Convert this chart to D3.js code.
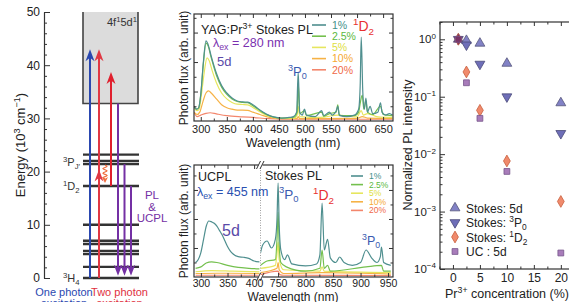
<!DOCTYPE html>
<html>
<head>
<meta charset="utf-8">
<script src="https://cdn.jsdelivr.net/npm/d3@7"></script>
<style>
	body { margin: 0; background: #fff; }
	svg text { font-family: "Liberation Sans", Arial, sans-serif; }
</style>
</head>
<body>
<svg id="chart" width="569" height="302"></svg>
<script>
var undef;
var FONT = '"Liberation Sans", Arial, sans-serif';

// (a) energy levels of Pr3+ (10^3 cm-1)
var levelEnergy = [0, 2.1, 4.5, 5.1, 6.4, 7.0, 10.0, 17.3, 21.4, 22.0, 23.2];
var bandBottom = 32.8;
var energyTicks = [0, 10, 20, 30, 40, 50];
var energyMinor = [2, 4, 6, 8, 12, 14, 16, 18, 22, 24, 26, 28, 32, 34, 36, 38, 42, 44, 46, 48];
var pumpArrows = [
	{x: 90, from: 0, to: 43.0, color: '#2a48b0'},
	{x: 99, from: 0, to: 43.0, color: '#e03844', mid: 20.4},
	{x: 111, from: 17.3, to: 38.7, color: '#e0202e'}
];
var emitArrows = [
	{x: 118, from: 32.8, to: 0.4},
	{x: 124.5, from: 21.4, to: 0.4},
	{x: 131, from: 17.3, to: 0.4}
];

// spectra, shared legend
var concLabels = ['1%', '2.5%', '5%', '10%', '20%'];
var concColors = ['#4f8f8f', '#74c04e', '#e6e65e', '#f6b246', '#f3866c'];
var concTextColors = ['#3f8f8a', '#5cb840', '#dede40', '#f5a830', '#f06a48'];

// (b) Stokes PL, lambda_ex = 280 nm  [nm, flux]
var stokes1 = [[287,0.5],[292,0.4],[296,0.45],[300,0.9],[305,2.0],[310,2.72],[314,2.6],[320,2.2],[330,1.62],[340,1.2],[350,0.95],[360,0.78],[370,0.68],[380,0.65],[390,0.64],[400,0.55],[410,0.42],[420,0.3],[430,0.2],[440,0.14],[455,0.1],[470,0.12],[478,0.15],[484,0.3],[487,1.66],[490,0.3],[495,0.2],[499,0.4],[503,0.2],[520,0.15],[532,0.35],[536,0.18],[547,0.3],[552,0.2],[560,0.35],[563,0.5],[566,0.2],[580,0.15],[595,0.2],[603,0.4],[606,1.2],[608,2.85],[611,1.0],[614,0.4],[617,0.78],[620,0.3],[625,0.5],[630,0.25],[640,0.3],[645,0.62],[648,0.3],[655,0.2],[662,0.25],[668,0.2]];
var stokes25 = [[287,0.5],[292,0.4],[296,0.45],[300,0.9],[305,1.95],[310,2.64],[314,2.55],[320,2.15],[330,1.55],[340,1.15],[350,0.9],[360,0.75],[370,0.66],[380,0.63],[390,0.62],[400,0.52],[410,0.4],[420,0.28],[430,0.19],[440,0.13],[455,0.1],[470,0.11],[480,0.14],[485,0.3],[487,1.3],[490,0.25],[499,0.35],[503,0.18],[532,0.3],[536,0.16],[547,0.25],[560,0.3],[563,0.55],[566,0.18],[595,0.18],[603,0.3],[606,0.6],[610,0.88],[613,0.4],[617,0.7],[620,0.3],[630,0.22],[645,0.5],[650,0.22],[668,0.18]];
var stokes5 = [[287,0.45],[293,0.35],[297,0.4],[302,1.0],[307,1.7],[312,2.14],[316,2.05],[322,1.7],[330,1.3],[340,0.95],[350,0.75],[360,0.63],[370,0.57],[380,0.56],[390,0.55],[400,0.46],[410,0.35],[420,0.25],[430,0.17],[440,0.12],[455,0.09],[480,0.1],[485,0.2],[487,0.5],[490,0.15],[530,0.12],[563,0.2],[600,0.14],[608,0.35],[612,0.2],[620,0.25],[640,0.14],[668,0.12]];
var stokes10 = [[287,0.3],[293,0.22],[298,0.3],[304,0.65],[310,0.95],[315,1.02],[320,0.95],[330,0.75],[340,0.55],[350,0.45],[360,0.4],[370,0.37],[380,0.37],[390,0.36],[400,0.3],[410,0.24],[420,0.18],[430,0.13],[440,0.1],[460,0.08],[485,0.09],[487,0.15],[490,0.08],[520,0.08],[600,0.09],[610,0.15],[620,0.1],[668,0.09]];
var stokes20 = [[287,0.3],[293,0.15],[300,0.2],[310,0.26],[318,0.28],[330,0.24],[350,0.18],[380,0.14],[400,0.12],[430,0.08],[480,0.06],[560,0.06],[668,0.06]];
var stokesSeries = [stokes1, stokes25, stokes5, stokes10, stokes20];
var wlTicks = [300, 350, 400, 450, 500, 550, 600, 650];
var wlMinor = [325, 375, 425, 475, 525, 575, 625];

// (c) UCPL (lambda_ex = 455 nm) and Stokes PL in the NIR
var uc1 = [[290,0.5],[295,0.6],[300,0.85],[305,1.3],[310,1.75],[315,1.93],[320,1.9],[325,1.85],[330,1.75],[335,1.6],[340,1.45],[345,1.25],[350,1.05],[355,0.9],[360,0.8],[370,0.7],[380,0.68],[390,0.64],[400,0.55],[410,0.52]];
var uc25 = [[290,0.3],[300,0.35],[310,0.48],[320,0.52],[330,0.5],[350,0.4],[370,0.33],[390,0.3],[410,0.28]];
var uc5 = [[290,0.18],[320,0.22],[360,0.2],[410,0.18]];
var uc10 = [[290,0.12],[330,0.13],[410,0.12]];
var uc20 = [[290,0.06],[350,0.06],[410,0.06]];
var ucSeries = [uc1, uc25, uc5, uc10, uc20];
var nir1 = [[718,0.83],[722,1.1],[730,1.24],[738,1.0],[745,1.3],[748,2.0],[750,3.24],[752,1.8],[755,0.93],[762,0.6],[767,0.76],[775,0.45],[800,0.38],[820,0.45],[826,0.76],[830,2.55],[834,0.93],[840,1.3],[845,0.66],[855,0.5],[862,0.69],[870,0.5],[885,0.4],[900,0.5],[910,0.93],[920,0.66],[930,0.5],[936,0.7],[938,1.03],[942,0.5],[955,0.4]];
var nir25 = [[718,0.4],[730,0.55],[745,0.6],[748,1.3],[750,2.24],[752,1.1],[755,0.5],[765,0.35],[800,0.2],[826,0.3],[830,0.93],[834,0.3],[840,0.4],[845,0.2],[910,0.35],[938,0.4],[942,0.2],[955,0.2]];
var nir5 = [[718,0.3],[745,0.4],[748,0.8],[750,1.2],[752,0.6],[760,0.25],[826,0.2],[830,0.35],[834,0.2],[955,0.15]];
var nir10 = [[718,0.15],[748,0.3],[750,0.5],[752,0.25],[760,0.12],[830,0.15],[955,0.1]];
var nir20 = [[718,0.08],[750,0.2],[753,0.08],[760,0.06],[955,0.05]];
var nirSeries = [nir1, nir25, nir5, nir10, nir20];
var uvTicks = [300, 350, 400], uvMinor = [325, 375];
var nirTicks = [750, 800, 850, 900, 950], nirMinor = [775, 825, 875, 925];

// (d) normalized PL intensity vs Pr3+ concentration
var concentration = [1, 2.5, 5, 10, 20];
var int5d = [1, 0.95, 0.85, 0.38, 0.078];
var int3P0 = [1, 0.8, 0.37, 0.1, 0.023];
var int1D2 = [1, 0.27, 0.058, 0.0076, 0.0015];
var intUC = [1, 0.175, 0.042, 0.005, 0.00019];
var concTicks = [0, 5, 10, 15, 20];
var concMinor = [-2.5, 2.5, 7.5, 12.5, 17.5];
var decadeTicks = [1e-4, 1e-3, 1e-2, 1e-1, 1];
var decadeExp = ['\u22124', '\u22123', '\u22122', '\u22121', '0'];

var svg = d3.select('#chart');
svg.append('rect').attr('width', 569).attr('height', 302).attr('fill', '#fff');

// text with sup/sub parts: [[text, 'sup'|'sub'|null], ...]
function rich(g, x, y, parts, size, color, anchor){
	var t = g.append('text').attr('x', x).attr('y', y)
		.attr('font-size', size).attr('fill', color || '#222')
		.attr('text-anchor', anchor || 'start');
	var cur = 0;
	parts.forEach(function(p){
		var off = p[1] === 'sup' ? -0.4 * size : (p[1] === 'sub' ? 0.25 * size : 0);
		var ts = t.append('tspan').text(p[0]).attr('dy', off - cur);
		if (p[1]){
			ts.attr('font-size', size * 0.7);
		}
		cur = off;
	});
	return t;
}

function styleAxis(sel, size){
	sel.attr('font-family', FONT).attr('font-size', size || 11);
	sel.select('.domain').remove();
	sel.selectAll('line').attr('stroke', '#333').attr('stroke-width', 1);
	sel.selectAll('text').attr('fill', '#222');
}

function xTicks(g, xs, maj, min, top, bottom, labels, size, pad){
	var b = g.append('g').attr('transform', 'translate(0,' + bottom + ')')
		.call(d3.axisBottom(xs).tickValues(maj).tickSizeInner(-4).tickSizeOuter(0).tickPadding(pad || 4)
			.tickFormat(labels ? d3.format('d') : ''));
	styleAxis(b, size);
	styleAxis(g.append('g').attr('transform', 'translate(0,' + bottom + ')')
		.call(d3.axisBottom(xs).tickValues(min).tickSize(-2.5).tickFormat('')));
	styleAxis(g.append('g').attr('transform', 'translate(0,' + top + ')')
		.call(d3.axisTop(xs).tickValues(maj).tickSize(-4).tickFormat('')));
	styleAxis(g.append('g').attr('transform', 'translate(0,' + top + ')')
		.call(d3.axisTop(xs).tickValues(min).tickSize(-2.5).tickFormat('')));
}

function yTicks(g, ys, maj, min, left, right){
	styleAxis(g.append('g').attr('transform', 'translate(' + left + ',0)')
		.call(d3.axisLeft(ys).tickValues(maj).tickSize(-4).tickFormat('')));
	styleAxis(g.append('g').attr('transform', 'translate(' + left + ',0)')
		.call(d3.axisLeft(ys).tickValues(min).tickSize(-2.5).tickFormat('')));
	if (right != null){
		styleAxis(g.append('g').attr('transform', 'translate(' + right + ',0)')
			.call(d3.axisRight(ys).tickValues(maj).tickSize(-4).tickFormat('')));
		styleAxis(g.append('g').attr('transform', 'translate(' + right + ',0)')
			.call(d3.axisRight(ys).tickValues(min).tickSize(-2.5).tickFormat('')));
	}
}

function arrowHead(g, x, y, dir, color, L, w){
	// dir -1 points up, 1 points down
	var n = L * 0.3;
	g.append('path')
		.attr('d', 'M' + x + ',' + y + 'L' + (x - w) + ',' + (y - dir * L) + 'L' + x + ',' + (y - dir * (L - n)) +
			'L' + (x + w) + ',' + (y - dir * L) + 'Z')
		.attr('fill', color);
}

// ---------- (a) energy diagram ----------
var eY = d3.scaleLinear().domain([0, 50]).range([278, 12]);
var ga = svg.append('g');
var levelX0 = 83, levelX1 = 139;

ga.append('rect').attr('x', levelX0).attr('y', eY(50)).attr('width', 55)
	.attr('height', eY(bandBottom) - eY(50)).attr('fill', '#dcdcdc');
ga.append('path')
	.attr('d', 'M' + levelX0 + ',' + eY(50) + 'V' + eY(bandBottom) + 'H' + (levelX0 + 55) + 'V' + eY(50))
	.attr('fill', 'none').attr('stroke', '#444').attr('stroke-width', 1.6);
rich(ga, 107, 26, [['4f', null], ['1', 'sup'], ['5d', null], ['1', 'sup']], 11, '#333');

ga.selectAll('line.level').data(levelEnergy).enter().append('line')
	.attr('x1', levelX0).attr('x2', levelX1)
	.attr('y1', function(d){ return eY(d); }).attr('y2', function(d){ return eY(d); })
	.attr('stroke', '#333').attr('stroke-width', 2.4);

var ax = ga.append('g').attr('transform', 'translate(44,0)')
	.call(d3.axisLeft(eY).tickValues(energyTicks).tickSizeInner(-6).tickSizeOuter(0).tickPadding(4));
ax.attr('font-family', FONT).attr('font-size', 12);
ax.selectAll('line').attr('stroke', '#333');
ax.select('.domain').attr('stroke', '#333').attr('stroke-width', 1.2);
ax.selectAll('text').attr('fill', '#222');
styleAxis(ga.append('g').attr('transform', 'translate(44,0)')
	.call(d3.axisLeft(eY).tickValues(energyMinor).tickSize(-3).tickFormat('')));

rich(ga, 0, 0, [['Energy (10', null], ['3', 'sup'], [' cm', null], ['\u22121', 'sup'], [')', null]], 13, '#222', 'middle')
	.attr('transform', 'translate(25,145) rotate(-90)');

pumpArrows.forEach(function(a){
	ga.append('line').attr('x1', a.x).attr('x2', a.x).attr('y1', eY(a.from)).attr('y2', eY(a.to) + 6)
		.attr('stroke', a.color).attr('stroke-width', 2);
	arrowHead(ga, a.x, eY(a.to), -1, a.color, 12, 4.5);
	if (a.mid != undef){
		arrowHead(ga, a.x, eY(a.mid), -1, a.color, 12, 4.5);
	}
});
emitArrows.forEach(function(a){
	ga.append('line').attr('x1', a.x).attr('x2', a.x).attr('y1', eY(a.from)).attr('y2', eY(a.to) - 6)
		.attr('stroke', '#7430a4').attr('stroke-width', 2);
	arrowHead(ga, a.x, eY(a.to), 1, '#7430a4', 11, 4.2);
});

// non-radiative relaxation 3P -> 1D2
var wy0 = eY(21.4) + 1, wy1 = eY(17.3) - 3;
var wavy = d3.range(0, 1.001, 0.05).map(function(t){
	return [105 + 2 * Math.sin(t * Math.PI * 6), wy0 + t * (wy1 - wy0 - 4)];
});
ga.append('path').attr('d', d3.line()(wavy)).attr('fill', 'none')
	.attr('stroke', '#f07040').attr('stroke-width', 1.2);
arrowHead(ga, 105, wy1, 1, '#f07040', 6, 3);

rich(ga, 63, 166, [['3', 'sup'], ['P', null], ['J\u2032', 'sub']], 11, '#333');
rich(ga, 63, 190, [['1', 'sup'], ['D', null], ['2', 'sub']], 11, '#333');
rich(ga, 63, 282, [['3', 'sup'], ['H', null], ['4', 'sub']], 11, '#333');
['PL', '&', 'UCPL'].forEach(function(s, i){
	ga.append('text').attr('x', 152).attr('y', 199 + i * 11.5).attr('text-anchor', 'middle')
		.attr('font-size', 11.5).attr('fill', '#7430a4').text(s);
});
[['One photon', 'excitation', 64, '#2a48b0'], ['Two photon', 'excitation', 119.5, '#e03040']].forEach(function(l){
	ga.append('text').attr('x', l[2]).attr('y', 296).attr('text-anchor', 'middle')
		.attr('font-size', 11).attr('fill', l[3]).text(l[0]);
	ga.append('text').attr('x', l[2]).attr('y', 307).attr('text-anchor', 'middle')
		.attr('font-size', 11).attr('fill', l[3]).text(l[1]);
});

// ---------- (b) Stokes PL, 280 nm ----------
var boxB = {l: 194, r: 393, t: 14, b: 121};
var xB = d3.scaleLinear().domain([287, 669]).range([boxB.l, boxB.r]);
var yB = d3.scaleLinear().domain([0, 3.63]).range([boxB.b, boxB.t]);
var gb = svg.append('g');
gb.append('clipPath').attr('id', 'clipB').append('rect')
	.attr('x', boxB.l).attr('y', boxB.t).attr('width', boxB.r - boxB.l).attr('height', boxB.b - boxB.t);
var lineB = d3.line().curve(d3.curveMonotoneX)
	.x(function(d){ return xB(d[0]); }).y(function(d){ return yB(d[1]); });
var plotB = gb.append('g').attr('clip-path', 'url(#clipB)');
for (var i = stokesSeries.length - 1; i >= 0; i--){
	plotB.append('path').attr('d', lineB(stokesSeries[i])).attr('fill', 'none')
		.attr('stroke', concColors[i]).attr('stroke-width', 1.2);
}
xTicks(gb, xB, wlTicks, wlMinor, boxB.t, boxB.b, true, 11);
yTicks(gb, yB, [1, 2, 3], [0.5, 1.5, 2.5, 3.5], boxB.l, boxB.r);
gb.append('rect').attr('x', boxB.l).attr('y', boxB.t).attr('width', boxB.r - boxB.l).attr('height', boxB.b - boxB.t)
	.attr('fill', 'none').attr('stroke', '#333').attr('stroke-width', 1.2);

gb.append('text').attr('transform', 'translate(188,68) rotate(-90)').attr('text-anchor', 'middle')
	.attr('font-size', 12).attr('fill', '#222').text('Photon flux (arb. unit)');
gb.append('text').attr('x', 293).attr('y', 147).attr('text-anchor', 'middle')
	.attr('font-size', 12.5).attr('fill', '#222').text('Wavelength (nm)');
rich(gb, 201, 34, [['YAG:Pr', null], ['3+', 'sup'], [' Stokes PL', null]], 12.5, '#222');
rich(gb, 213, 47, [['\u03bb', null], ['ex', 'sub'], [' = 280 nm', null]], 12.5, '#7a30b0');
gb.append('text').attr('x', 217).attr('y', 66).attr('font-size', 13).attr('fill', '#5a4aa8').text('5d');
rich(gb, 288, 76, [['3', 'sup'], ['P', null], ['0', 'sub']], 13, '#3a5ab0');
rich(gb, 353, 31, [['1', 'sup'], ['D', null], ['2', 'sub']], 14, '#e83030');

concLabels.forEach(function(lab, i){
	var cy = 25 + i * 11.2;
	gb.append('line').attr('x1', 312).attr('x2', 326).attr('y1', cy).attr('y2', cy)
		.attr('stroke', concColors[i]).attr('stroke-width', 1.6);
	gb.append('text').attr('x', 332).attr('y', cy + 3.8).attr('font-size', 10.5)
		.attr('fill', concTextColors[i]).text(lab);
});

// ---------- (c) UCPL + Stokes NIR ----------
var boxC = {l: 194, r: 393, t: 165, b: 277, brk: 260.5};
var xUV = d3.scaleLinear().domain([287, 412]).range([boxC.l, boxC.brk]);
var xNIR = d3.scaleLinear().domain([718, 959]).range([boxC.brk, boxC.r]);
var yC = d3.scaleLinear().domain([0, 3.86]).range([boxC.b, boxC.t]);
var gc = svg.append('g');
gc.append('clipPath').attr('id', 'clipUV').append('rect')
	.attr('x', boxC.l).attr('y', boxC.t).attr('width', boxC.brk - boxC.l).attr('height', boxC.b - boxC.t);
gc.append('clipPath').attr('id', 'clipNIR').append('rect')
	.attr('x', boxC.brk).attr('y', boxC.t).attr('width', boxC.r - boxC.brk).attr('height', boxC.b - boxC.t);
var lineUV = d3.line().curve(d3.curveMonotoneX)
	.x(function(d){ return xUV(d[0]); }).y(function(d){ return yC(d[1]); });
var lineNIR = d3.line().curve(d3.curveMonotoneX)
	.x(function(d){ return xNIR(d[0]); }).y(function(d){ return yC(d[1]); });
var plotUV = gc.append('g').attr('clip-path', 'url(#clipUV)');
var plotNIR = gc.append('g').attr('clip-path', 'url(#clipNIR)');
for (var j = ucSeries.length - 1; j >= 0; j--){
	plotUV.append('path').attr('d', lineUV(ucSeries[j])).attr('fill', 'none')
		.attr('stroke', concColors[j]).attr('stroke-width', 1.2);
	plotNIR.append('path').attr('d', lineNIR(nirSeries[j])).attr('fill', 'none')
		.attr('stroke', concColors[j]).attr('stroke-width', 1.2);
}
gc.append('line').attr('x1', boxC.brk).attr('x2', boxC.brk).attr('y1', boxC.t).attr('y2', boxC.b)
	.attr('stroke', '#888').attr('stroke-width', 0.8).attr('stroke-dasharray', '1,1.5');
xTicks(gc, xUV, uvTicks, uvMinor, boxC.t, boxC.b, true, 10.5, 3);
xTicks(gc, xNIR, nirTicks, nirMinor, boxC.t, boxC.b, true, 10.5, 3);
yTicks(gc, yC, [1, 2, 3], [0.5, 1.5, 2.5, 3.5], boxC.l, boxC.r);
gc.append('rect').attr('x', boxC.l).attr('y', boxC.t).attr('width', boxC.r - boxC.l).attr('height', boxC.b - boxC.t)
	.attr('fill', 'none').attr('stroke', '#333').attr('stroke-width', 1.2);
// axis break marks
[boxC.t, boxC.b].forEach(function(yy){
	gc.append('rect').attr('x', boxC.brk - 2).attr('y', yy - 2).attr('width', 4).attr('height', 4).attr('fill', '#fff');
	[-2, 1.5].forEach(function(dx){
		gc.append('line').attr('x1', boxC.brk + dx - 2).attr('y1', yy + 4).attr('x2', boxC.brk + dx + 2).attr('y2', yy - 4)
			.attr('stroke', '#333').attr('stroke-width', 1);
	});
});

gc.append('text').attr('transform', 'translate(188,221) rotate(-90)').attr('text-anchor', 'middle')
	.attr('font-size', 12).attr('fill', '#222').text('Photon flux (arb. unit)');
gc.append('text').attr('x', 293).attr('y', 300.5).attr('text-anchor', 'middle')
	.attr('font-size', 12).attr('fill', '#222').text('Wavelength (nm)');
gc.append('text').attr('x', 198).attr('y', 181).attr('font-size', 12.5).attr('fill', '#222').text('UCPL');
rich(gc, 197, 196, [['\u03bb', null], ['ex', 'sub'], [' = 455 nm', null]], 12.5, '#2a50b0');
gc.append('text').attr('x', 222).attr('y', 236).attr('font-size', 16).attr('fill', '#5a4aa8').text('5d');
gc.append('text').attr('x', 265).attr('y', 180).attr('font-size', 12.5).attr('fill', '#222').text('Stokes PL');
rich(gc, 279, 198.5, [['3', 'sup'], ['P', null], ['0', 'sub']], 13.5, '#3a5ab0');
rich(gc, 313, 200, [['1', 'sup'], ['D', null], ['2', 'sub']], 14, '#e83030');
rich(gc, 362, 245, [['3', 'sup'], ['P', null], ['0', 'sub']], 12.5, '#3a5ab0');

concLabels.forEach(function(lab, i){
	var cy = 176 + i * 8.6;
	gc.append('line').attr('x1', 351).attr('x2', 363).attr('y1', cy).attr('y2', cy)
		.attr('stroke', concColors[i]).attr('stroke-width', 1.6);
	gc.append('text').attr('x', 369).attr('y', cy + 3).attr('font-size', 8.5)
		.attr('fill', concTextColors[i]).text(lab);
});

// ---------- (d) normalized intensity ----------
var boxD = {l: 440, r: 570, t: 22, b: 269};
var xD = d3.scaleLinear().domain([-2.4, 21.7]).range([boxD.l, boxD.r]);
var yD = d3.scaleLog().domain([1e-4, 2]).range([boxD.b, boxD.t]);
var gd = svg.append('g');
var decadeMinor = [];
decadeTicks.forEach(function(d){
	for (var k = 2; k <= 9; k++){
		if (d * k <= 2) decadeMinor.push(d * k);
	}
});
xTicks(gd, xD, concTicks, concMinor.concat([22.5]), boxD.t, boxD.b, true, 12);
styleAxis(gd.append('g').attr('transform', 'translate(' + boxD.l + ',0)')
	.call(d3.axisLeft(yD).tickValues(decadeTicks).tickSize(-5).tickFormat('')));
styleAxis(gd.append('g').attr('transform', 'translate(' + boxD.l + ',0)')
	.call(d3.axisLeft(yD).tickValues(decadeMinor).tickSize(-2.5).tickFormat('')));
gd.append('rect').attr('x', boxD.l).attr('y', boxD.t).attr('width', boxD.r - boxD.l).attr('height', boxD.b - boxD.t)
	.attr('fill', 'none').attr('stroke', '#333').attr('stroke-width', 1.2);
decadeTicks.forEach(function(d, i){
	rich(gd, 436, yD(d) + 4, [['10', null], [decadeExp[i], 'sup']], 11.5, '#222', 'end');
});

var markerSpec = [
	{vals: int5d, type: d3.symbolTriangle, size: 42, rot: 0, fill: '#8282c6', stroke: '#55557a', label: [['Stokes: 5d', null]]},
	{vals: int3P0, type: d3.symbolTriangle, size: 42, rot: 180, fill: '#6e6eb8', stroke: '#4a4a78', label: [['Stokes: ', null], ['3', 'sup'], ['P', null], ['0', 'sub']]},
	{vals: int1D2, type: d3.symbolDiamond, size: 40, rot: 0, fill: '#f08a6c', stroke: '#c8603e', label: [['Stokes: ', null], ['1', 'sup'], ['D', null], ['2', 'sub']]},
	{vals: intUC, type: d3.symbolSquare, size: 34, rot: 0, fill: '#a87cba', stroke: '#76568a', label: [['UC : 5d', null]]}
];
markerSpec.forEach(function(m, i){
	var sym = d3.symbol().type(m.type).size(m.size);
	gd.selectAll('path.m' + i).data(m.vals).enter().append('path')
		.attr('d', sym)
		.attr('transform', function(d, k){
			return 'translate(' + xD(concentration[k]) + ',' + yD(d) + ') rotate(' + m.rot + ')';
		})
		.attr('fill', function(d, k){ return k === 0 ? '#7a3466' : m.fill; })
		.attr('stroke', m.stroke).attr('stroke-width', 0.8);
	var ly = 208 + i * 14.5;
	gd.append('path').attr('d', sym).attr('transform', 'translate(455,' + ly + ') rotate(' + m.rot + ')')
		.attr('fill', m.fill).attr('stroke', m.stroke).attr('stroke-width', 0.8);
	rich(gd, 466, ly + 4.5, m.label, 12, '#222');
});

gd.append('text').attr('transform', 'translate(412,145) rotate(-90)').attr('text-anchor', 'middle')
	.attr('font-size', 12.5).attr('fill', '#222').text('Normalized PL intensity');
rich(gd, 507, 298, [['Pr', null], ['3+', 'sup'], [' concentration (%)', null]], 12.5, '#222', 'middle');
</script>
</body>
</html>
